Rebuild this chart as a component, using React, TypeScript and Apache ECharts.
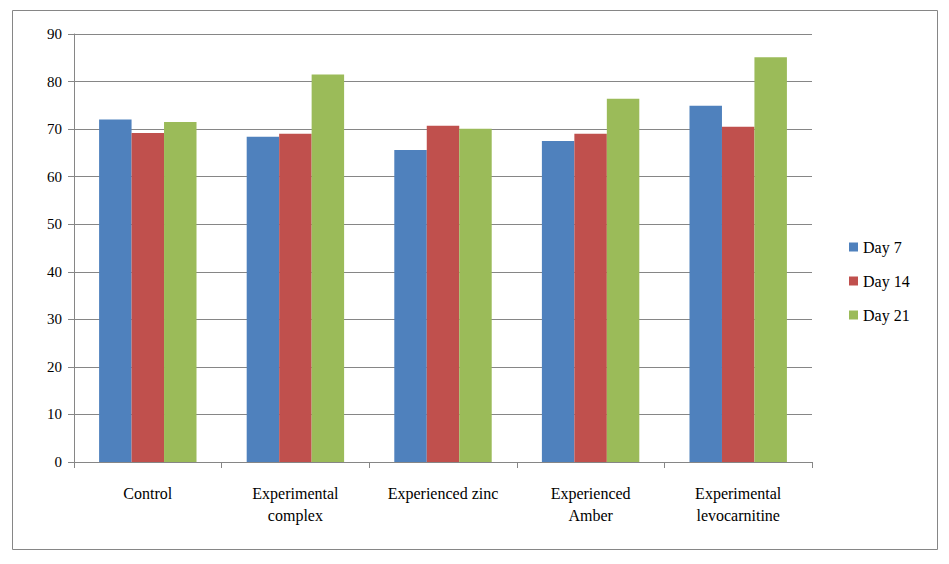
import React, { useEffect, useRef } from "react";
import * as echarts from "echarts";

const categories = [
  "Control",
  "Experimental\ncomplex",
  "Experienced zinc",
  "Experienced\nAmber",
  "Experimental\nlevocarnitine",
];
const seriesNames = ["Day 7", "Day 14", "Day 21"];
const day7 = [72.0, 68.4, 65.6, 67.5, 74.9];
const day14 = [69.2, 69.0, 70.7, 69.0, 70.5];
const day21 = [71.5, 81.5, 70.1, 76.4, 85.1];
const colors = ["#4F81BD", "#C0504D", "#9BBB59"];

export default function App() {
  const ref = useRef<HTMLDivElement>(null);
  useEffect(() => {
    if (!ref.current) return;
    const chart = echarts.init(ref.current, null, { renderer: "svg" });
    const font = "Times New Roman, Liberation Serif, DejaVu Serif, serif";
    const data = [day7, day14, day21];
    chart.setOption({
      animation: false,
      textStyle: { fontFamily: font, color: "#000" },
      graphic: [
        {
          type: "rect",
          shape: { x: 12.5, y: 10.5, width: 925, height: 539 },
          style: { fill: "none", stroke: "#868686", lineWidth: 1 },
        },
      ],
      grid: { left: 74, right: 137, top: 34, bottom: 102, containLabel: false },
      legend: {
        orient: "vertical",
        left: 844,
        top: 234,
        itemWidth: 9,
        itemHeight: 9,
        itemGap: 18,
        icon: "rect",
        textStyle: { fontFamily: font, fontSize: 16, color: "#000" },
        data: seriesNames,
      },
      xAxis: {
        type: "category",
        data: categories,
        axisLine: { lineStyle: { color: "#868686", width: 1 } },
        axisTick: { show: true, length: 6, lineStyle: { color: "#868686" } },
        axisLabel: {
          fontFamily: font,
          fontSize: 16,
          color: "#000",
          margin: 20,
          lineHeight: 22,
          interval: 0,
        },
      },
      yAxis: {
        type: "value",
        min: 0,
        max: 90,
        interval: 10,
        axisLine: { show: true, lineStyle: { color: "#868686", width: 1 } },
        axisTick: { show: true, length: 6, lineStyle: { color: "#868686" } },
        splitLine: { lineStyle: { color: "#868686", width: 1 } },
        axisLabel: { fontFamily: font, fontSize: 15, color: "#000", margin: 12 },
      },
      series: seriesNames.map((name, i) => ({
        name,
        type: "bar",
        data: data[i],
        barGap: "0%",
        barCategoryGap: "34%",
        itemStyle: { color: colors[i] },
      })),
    });
    return () => chart.dispose();
  }, []);
  return (
    <div
      ref={ref}
      style={{ position: "fixed", left: 0, top: 0, width: 949, height: 564, background: "#fff" }}
    />
  );
}
